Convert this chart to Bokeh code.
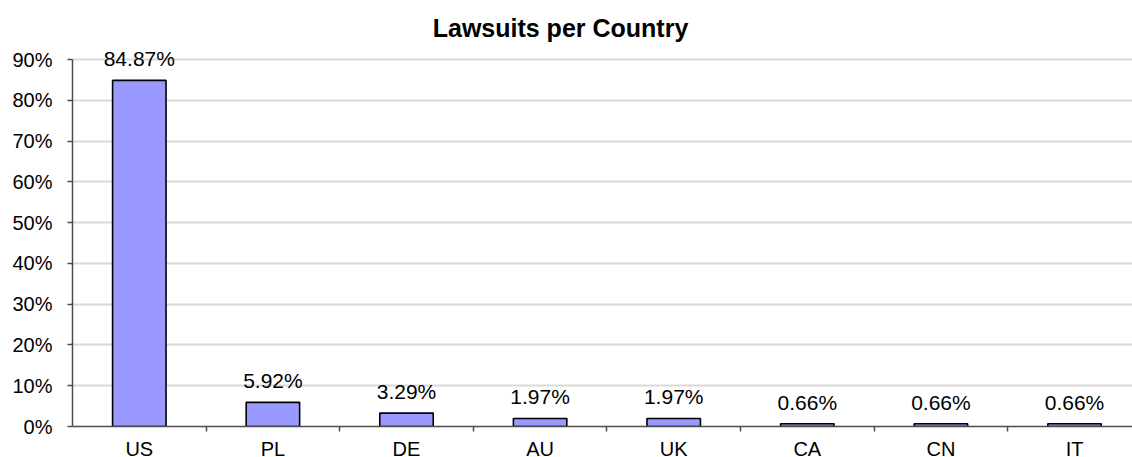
from bokeh.plotting import figure
from bokeh.layouts import column
from bokeh.models import Range1d, FixedTicker, Label
from bokeh.core.properties import value
from bokeh.embed import file_html
from bokeh.resources import INLINE

countries = ["US", "PL", "DE", "AU", "UK", "CA", "CN", "IT"]
shares = [84.87, 5.92, 3.29, 1.97, 1.97, 0.66, 0.66, 0.66]
y_ticks = [0, 10, 20, 30, 40, 50, 60, 70, 80, 90]
title_text = "Lawsuits per Country"

xs = list(range(len(countries)))

FONT = "Liberation Sans"
AXIS_COLOR = "#4d4d4d"

# layout constants (pixels)
W, H1, H2 = 1132, 438, 19
LEFT, BOTTOM = 72, 12
FRAME_W = W - LEFT
FRAME_H = H1 - BOTTOM
TOP_OF_90 = 59          # pixel row of the 90% line
X_END = 7.434
px_per_x = FRAME_W / (X_END + 0.5)
px_per_y = (FRAME_H - TOP_OF_90) / 90.0
Y_END = 90 + TOP_OF_90 / px_per_y

x_range = Range1d(-0.5, X_END)

p = figure(width=W, height=H1, output_backend="svg", toolbar_location=None,
           x_range=x_range, y_range=Range1d(0, Y_END),
           min_border_left=LEFT, min_border_right=0, min_border_top=0,
           min_border_bottom=BOTTOM)
p.outline_line_color = None
p.background_fill_color = "white"

p.vbar(x=xs, top=shares, width=0.40, bottom=0,
       fill_color="#9999FF", line_color="black", line_width=1.6)

for i, v in zip(xs, shares):
    p.add_layout(Label(x=i, y=v, text=f"{v:.2f}%", text_align="center",
                       text_baseline="middle", y_offset=21.5, text_font=FONT,
                       text_font_size="21px", text_color="black"))

# chart title, centred at pixel column 560, middle at row 27
p.add_layout(Label(x=-0.5 + (560 - LEFT) / px_per_x, y=(FRAME_H - 27) / px_per_y,
                   text=title_text, text_align="center", text_baseline="middle",
                   text_font=FONT, text_font_size="25px", text_font_style="bold",
                   text_color="black"))

# y axis
p.yaxis.ticker = FixedTicker(ticks=y_ticks)
p.yaxis.bounds = (0, 90)
p.yaxis.major_label_overrides = {t: f"{t}%" for t in y_ticks}
p.yaxis.major_label_text_font = FONT
p.yaxis.major_label_text_font_size = "20px"
p.yaxis.major_label_text_color = "black"
p.yaxis.major_tick_out = 5
p.yaxis.major_tick_in = 0
p.yaxis.minor_tick_out = 0
p.yaxis.minor_tick_in = 0
p.yaxis.major_label_standoff = 15
p.yaxis.axis_line_color = AXIS_COLOR
p.yaxis.major_tick_line_color = AXIS_COLOR
p.yaxis.axis_line_width = 1.5
p.yaxis.major_tick_line_width = 1.5

# x axis: tick marks between categories, names drawn in the strip below
boundaries = [i + 0.5 for i in xs]
p.xaxis.ticker = FixedTicker(ticks=xs, minor_ticks=boundaries)
p.xaxis.major_label_overrides = {i: "" for i in xs}
p.xaxis.major_label_text_font_size = "0px"
p.xaxis.major_label_standoff = 0
p.xaxis.major_tick_out = 0
p.xaxis.major_tick_in = 0
p.xaxis.minor_tick_out = 5
p.xaxis.minor_tick_in = 0
p.xaxis.minor_tick_line_color = AXIS_COLOR
p.xaxis.minor_tick_line_width = 1.5
p.xaxis.axis_line_color = AXIS_COLOR
p.xaxis.axis_line_width = 1.5

p.xgrid.grid_line_color = None
p.ygrid.ticker = FixedTicker(ticks=y_ticks)
p.ygrid.grid_line_color = "#d9d9d9"
p.ygrid.grid_line_width = 2

# strip with category names
p2 = figure(width=W, height=H2, output_backend="svg", toolbar_location=None,
            x_range=x_range, y_range=Range1d(0, 1),
            x_axis_type=None, y_axis_type=None,
            min_border_left=LEFT, min_border_right=0, min_border_top=0, min_border_bottom=0)
p2.outline_line_color = None
p2.xgrid.visible = False
p2.ygrid.visible = False
p2.text(x=xs, y=[0] * len(xs), text=countries, text_align="center",
        text_baseline="middle", y_offset=-9, text_font=value(FONT),
        text_font_size="20px", text_color="black")

layout = column(p, p2, spacing=0)
open("out.html", "w").write(file_html(layout, INLINE))
